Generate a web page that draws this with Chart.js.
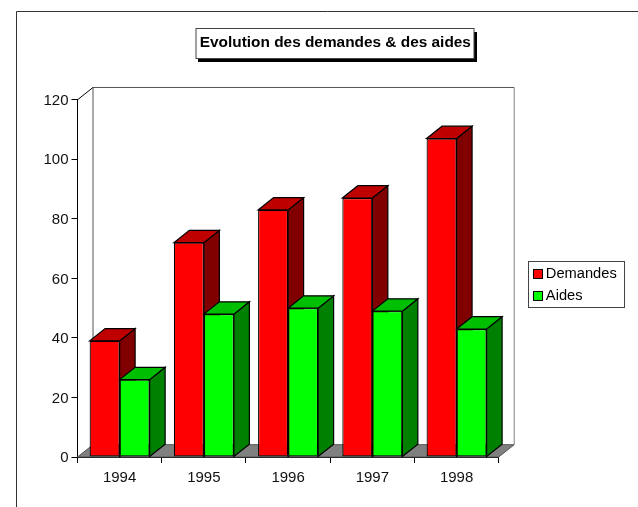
<!DOCTYPE html>
<html>
<head>
<meta charset="utf-8">
<script src="https://cdn.jsdelivr.net/npm/chart.js@4"></script>
<style>
  html, body { margin: 0; padding: 0; background: #fff; }
  canvas { display: block; }
</style>
</head>
<body>
<canvas id="chart" width="638" height="507"></canvas>
<script>
const years = ["1994", "1995", "1996", "1997", "1998"];
const demandes = [39, 72, 83, 87, 107];
const aides = [26, 48, 50, 49, 43];

// profondeur du faux effet 3D
const DX = 15.5;
const DY = 12.3;
const FONT = "'Liberation Sans', Arial, sans-serif";

function face(ctx, pts, fill) {
  ctx.beginPath();
  pts.forEach((p, i) => (i ? ctx.lineTo(p[0], p[1]) : ctx.moveTo(p[0], p[1])));
  ctx.closePath();
  ctx.fillStyle = fill;
  ctx.fill();
  ctx.strokeStyle = "#000";
  ctx.lineWidth = 1.2;
  ctx.stroke();
}

const fake3d = {
  id: "fake3d",
  afterLayout(chart) {
    // titre et legende ne suivent pas la mise en page standard
    const t = chart.titleBlock;
    t.left += 86;
    t.right += 86;
    const l = chart.legend;
    const w = l.right - l.left, h = l.bottom - l.top;
    l.left = 526.2;
    l.right = l.left + w;
    l.top = 259.3;
    l.bottom = l.top + h;
  },
  beforeDraw(chart) {
    const ctx = chart.ctx;
    ctx.save();
    // cadre
    ctx.strokeStyle = "#333";
    ctx.lineWidth = 1;
    ctx.beginPath();
    ctx.moveTo(16.5, 507);
    ctx.lineTo(16.5, 11.5);
    ctx.lineTo(638, 11.5);
    ctx.stroke();
    // boite du titre
    ctx.fillStyle = "#000";
    ctx.fillRect(198, 32, 279, 30);
    ctx.fillStyle = "#fff";
    ctx.fillRect(196, 28.5, 278, 30);
    ctx.strokeStyle = "#444";
    ctx.strokeRect(196, 28.5, 278, 30);
    ctx.restore();
  },
  beforeDatasetsDraw(chart) {
    const ctx = chart.ctx;
    const a = chart.chartArea;
    ctx.save();
    // sol
    ctx.beginPath();
    ctx.moveTo(a.left, a.bottom);
    ctx.lineTo(a.left + DX, a.bottom - DY);
    ctx.lineTo(a.right + DX, a.bottom - DY);
    ctx.lineTo(a.right, a.bottom);
    ctx.closePath();
    ctx.fillStyle = "#808080";
    ctx.fill();
    ctx.strokeStyle = "#555";
    ctx.lineWidth = 1;
    ctx.stroke();
    // murs
    ctx.strokeStyle = "#555";
    ctx.beginPath();
    ctx.moveTo(a.left + DX, a.bottom - DY);
    ctx.lineTo(a.left + DX, a.top - DY);
    ctx.lineTo(a.right + DX, a.top - DY);
    ctx.stroke();
    ctx.strokeStyle = "#808080";
    ctx.beginPath();
    ctx.moveTo(a.right + DX, a.top - DY);
    ctx.lineTo(a.right + DX, a.bottom - DY);
    ctx.stroke();
    ctx.strokeStyle = "#000";
    ctx.beginPath();
    ctx.moveTo(a.left, a.top);
    ctx.lineTo(a.left + DX, a.top - DY);
    ctx.stroke();
    // dessus et cotes des barres
    const tops = ["#bf0000", "#00bf00"];
    const sides = ["#800000", "#008000"];
    years.forEach((_, i) => {
      [0, 1].forEach((d) => {
        const bar = chart.getDatasetMeta(d).data[i];
        const x0 = bar.x - bar.width / 2;
        const x1 = bar.x + bar.width / 2;
        face(ctx, [[x1, bar.y], [x1 + DX, bar.y - DY], [x1 + DX, bar.base - DY], [x1, bar.base]], sides[d]);
        face(ctx, [[x0, bar.y], [x0 + DX, bar.y - DY], [x1 + DX, bar.y - DY], [x1, bar.y]], tops[d]);
      });
    });
    ctx.restore();
  },
  afterDraw(chart) {
    const ctx = chart.ctx;
    const boxes = chart.legend.legendHitBoxes;
    ctx.save();
    ctx.strokeStyle = "#444";
    ctx.lineWidth = 1;
    ctx.strokeRect(528.5, 261.5, 96, 46);
    boxes.forEach((b, i) => {
      const ds = chart.data.datasets[i];
      ctx.fillStyle = ds.backgroundColor;
      ctx.fillRect(b.left, b.top + b.height / 2 - 4.5, 9, 9);
      ctx.strokeStyle = "#000";
      ctx.strokeRect(b.left, b.top + b.height / 2 - 4.5, 9, 9);
    });
    ctx.restore();
  },
};

new Chart(document.getElementById("chart").getContext("2d"), {
  type: "bar",
  data: {
    labels: years,
    datasets: [
      { label: "Demandes", data: demandes, backgroundColor: "#ff0000", borderColor: "#000", borderWidth: 1.2, borderSkipped: false },
      { label: "Aides", data: aides, backgroundColor: "#00ff00", borderColor: "#000", borderWidth: 1.2, borderSkipped: false },
    ],
  },
  options: {
    responsive: false,
    animation: false,
    devicePixelRatio: 1,
    layout: { padding: { top: 28, left: 0, right: 139.3, bottom: 0 } },
    categoryPercentage: 0.7126,
    barPercentage: 1,
    plugins: {
      tooltip: { enabled: false },
      title: {
        display: true,
        text: "Evolution des demandes & des aides",
        color: "#000",
        font: { family: FONT, size: 15.4, weight: "bold" },
        padding: { top: 6, bottom: 47.3 },
      },
      legend: {
        position: "chartArea",
        align: "start",
        labels: {
          boxWidth: 5,
          boxHeight: 5,
          padding: 7.33,
          color: "#000",
          font: { family: FONT, size: 14.67 },
        },
      },
    },
    scales: {
      x: {
        afterFit(scale) { scale.height = 50; },
        border: { display: true, color: "#000", width: 1 },
        grid: { display: true, drawOnChartArea: false, drawTicks: true, tickLength: 6, color: "#000" },
        ticks: { color: "#111", padding: 6, font: { family: FONT, size: 15 } },
      },
      y: {
        min: 0,
        max: 120,
        afterFit(scale) { scale.width = 77.5; },
        border: { display: true, color: "#000", width: 1 },
        grid: { display: true, drawOnChartArea: false, drawTicks: true, tickLength: 6, color: "#000" },
        ticks: { stepSize: 20, color: "#111", padding: 3, labelOffset: 1, font: { family: FONT, size: 15 } },
      },
    },
  },
  plugins: [fake3d],
});
</script>
</body>
</html>
